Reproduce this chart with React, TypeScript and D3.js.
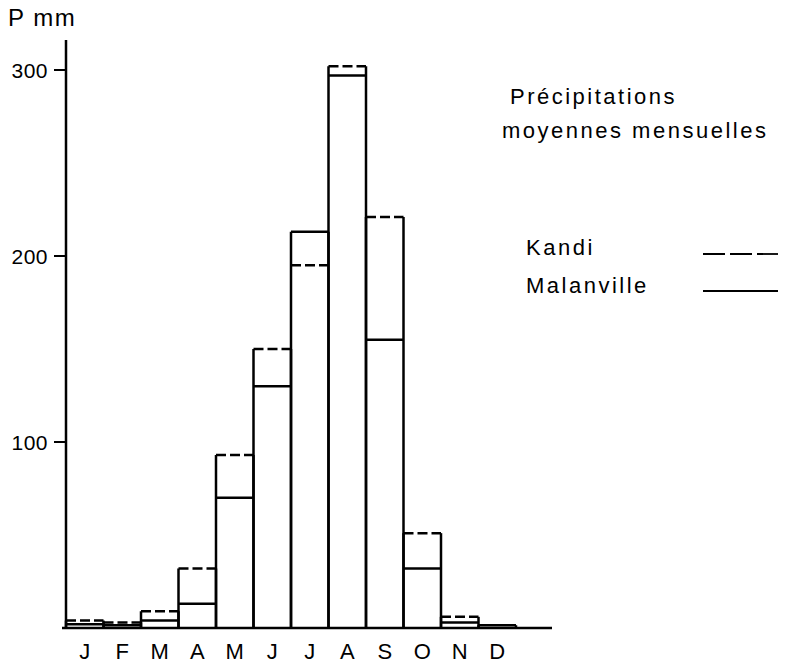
import React from "react";
import * as d3 from "d3";

const months = ["J", "F", "M", "A", "M", "J", "J", "A", "S", "O", "N", "D"];
const kandi = [4, 3, 9, 32, 93, 150, 195, 302, 221, 51, 6, 0];
const malanville = [2, 1.5, 4, 13, 70, 130, 213, 297, 155, 32, 3, 1.5];
const yTicks = [100, 200, 300];

const font = "'Liberation Sans', Arial, sans-serif";

const App = () => {
  const width = 786;
  const height = 668;
  const x0 = 66;
  const bw = 37.5;

  const x = d3
    .scaleBand<number>()
    .domain(d3.range(months.length))
    .range([x0, x0 + bw * months.length])
    .padding(0);

  const y = d3.scaleLinear().domain([0, 300]).range([628, 70]);

  return (
    <svg
      width={width}
      height={height}
      style={{ position: "absolute", left: 0, top: 0, background: "#fff" }}
      fontFamily={font}
    >
      {/* axes */}
      <line x1={x0} x2={x0} y1={40} y2={y(0)} stroke="#000" strokeWidth={2.5} />
      <line x1={62} x2={552} y1={y(0)} y2={y(0)} stroke="#000" strokeWidth={2.5} />
      {yTicks.map((t) => (
        <g key={t}>
          <line x1={x0 - 12} x2={x0} y1={y(t)} y2={y(t)} stroke="#000" strokeWidth={2} />
          <text x={48} y={y(t) + 8} textAnchor="end" fontSize={21} letterSpacing={0.5}>
            {t}
          </text>
        </g>
      ))}
      <text x={8} y={26} fontSize={24} letterSpacing={1.5}>
        P mm
      </text>

      {/* bars */}
      {months.map((m, i) => {
        const left = x(i)!;
        const right = left + x.bandwidth();
        const top = y(Math.max(kandi[i], malanville[i]));
        return (
          <g key={i}>
            <line x1={left} x2={left} y1={y(0)} y2={top} stroke="#000" strokeWidth={2.5} />
            <line x1={right} x2={right} y1={y(0)} y2={top} stroke="#000" strokeWidth={2.5} />
            {kandi[i] > 0 && (
              <line
                x1={left}
                x2={right}
                y1={y(kandi[i])}
                y2={y(kandi[i])}
                stroke="#000"
                strokeWidth={2.5}
                strokeDasharray="10,4"
              />
            )}
            <line
              x1={left}
              x2={right}
              y1={y(malanville[i])}
              y2={y(malanville[i])}
              stroke="#000"
              strokeWidth={2.5}
            />
            <text x={left + x.bandwidth() / 2} y={659} textAnchor="middle" fontSize={22}>
              {m}
            </text>
          </g>
        );
      })}

      {/* legend */}
      <text x={510} y={104} fontSize={22} letterSpacing={2.5}>
        Précipitations
      </text>
      <text x={502} y={138} fontSize={22} letterSpacing={2.5}>
        moyennes mensuelles
      </text>
      <text x={526} y={255} fontSize={22} letterSpacing={2.5}>
        Kandi
      </text>
      <text x={526} y={293} fontSize={22} letterSpacing={2.5}>
        Malanville
      </text>
      <line x1={703} x2={778} y1={254} y2={254} stroke="#000" strokeWidth={1.8} strokeDasharray="22,5" />
      <line x1={703} x2={778} y1={291} y2={291} stroke="#000" strokeWidth={1.8} />
    </svg>
  );
};

export default App;
